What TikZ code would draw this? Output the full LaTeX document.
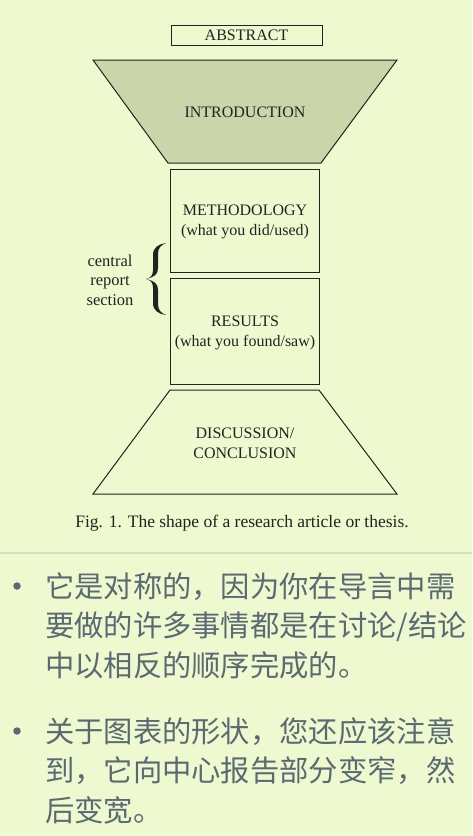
\documentclass[tikz,border=0pt]{standalone}
\usepackage{fontspec}
\setmainfont{Liberation Serif}
\newfontfamily\cjk{Noto Sans CJK SC}
\definecolor{bg}{RGB}{238,249,207}
\definecolor{introfill}{RGB}{202,213,170}
\definecolor{ink}{RGB}{34,34,34}
\definecolor{cjkgray}{RGB}{90,106,116}
\definecolor{sepline}{RGB}{214,222,198}
\tikzset{
  outline/.style={draw=ink, line width=1pt},
  lab/.style={text=ink, font=\fontsize{16}{20}\selectfont, align=center, inner sep=0pt},
  side/.style={text=ink, font=\fontsize{16.5}{19.5}\selectfont, align=center, inner sep=0pt},
  cjkline/.style={text=cjkgray, font=\cjk\fontsize{29.3}{39.5}\selectfont, anchor=base west, inner sep=0pt},
  bulletdot/.style={circle, fill=cjkgray, inner sep=0pt, minimum size=7.5pt}
}
\begin{document}
\begin{tikzpicture}[x=1pt,y=-1pt]
\fill[bg] (0,0) rectangle (472,836);
\useasboundingbox (0,0) rectangle (472,836);
% abstract
\node[outline, minimum width=151pt, minimum height=20pt, inner sep=0pt, lab] (abs) at (246.5,35) {ABSTRACT};
% introduction trapezoid
\draw[outline, fill=introfill] (93,60) coordinate (i1) -- (397,60) coordinate (i2) -- (321,163) coordinate (i3) -- (168,163) coordinate (i4) -- cycle;
\node[lab] (intro) at (245,112) {INTRODUCTION};
% methodology
\node[outline, minimum width=149pt, minimum height=103pt, inner sep=0pt] (meth) at (244.5,220.5) {};
\node[lab] (methtxt) at (245,222) {METHODOLOGY\\(what you did/used)};
% results
\node[outline, minimum width=149pt, minimum height=106pt, inner sep=0pt] (res) at (244.5,331) {};
\node[lab] (restxt) at (245,333) {RESULTS\\(what you found/saw)};
% discussion trapezoid
\draw[outline] (170,390) coordinate (d1) -- (319,390) coordinate (d2) -- (397,494) coordinate (d3) -- (93,494) coordinate (d4) -- cycle;
\node[lab] (disc) at (245,443) {DISCUSSION/\\CONCLUSION};
% side label
\node[side] (central) at (110,280) {central\\report\\section};
% brace
\fill[ink] (166,243) coordinate (bt)
  .. controls (159,244) and (153,247) .. (153,255) -- (153,270)
  .. controls (153,275) and (151,278) .. (146,279) coordinate (btip)
  .. controls (151,280) and (153,283) .. (153,288) -- (153,303)
  .. controls (153,311) and (159,314) .. (166,315) coordinate (bb)
  .. controls (161,313) and (158,310) .. (158,304) -- (158,290)
  .. controls (158,284) and (155,281) .. (146,279)
  .. controls (155,277) and (158,274) .. (158,268) -- (158,254)
  .. controls (158,248) and (161,245) .. (166,243) -- cycle;
% caption
\node[text=ink, font=\fontsize{17.5}{21}\selectfont, inner sep=0pt] (cap) at (242,523) {Fig. 1. The shape of a research article or thesis.};
% separator
\draw[sepline, line width=1.5pt] (0,553) coordinate (s1) -- (472,553) coordinate (s2);
% bullets
\node[bulletdot] (b1) at (17,586) {};
\node[cjkline] (l1) at (45,597) {它是对称的，因为你在导言中需};
\node[cjkline] (l2) at (45,636.5) {要做的许多事情都是在讨论/结论};
\node[cjkline] (l3) at (45,676) {中以相反的顺序完成的。};
\node[bulletdot] (b2) at (17,731) {};
\node[cjkline] (l4) at (45,742) {关于图表的形状，您还应该注意};
\node[cjkline] (l5) at (45,781.5) {到，它向中心报告部分变窄，然};
\node[cjkline] (l6) at (45,821) {后变宽。};
\end{tikzpicture}
\end{document}
